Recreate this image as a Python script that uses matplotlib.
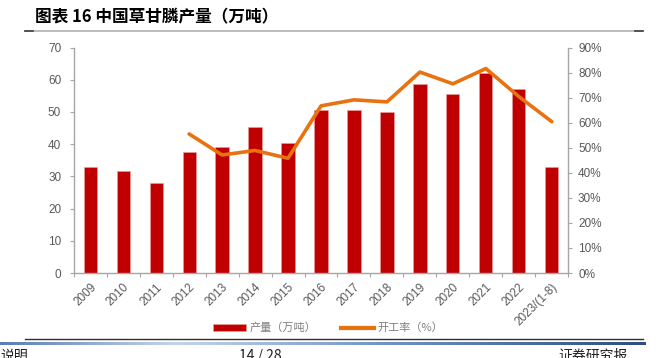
import matplotlib
matplotlib.use("Agg")
import matplotlib.pyplot as plt
import numpy as np
from matplotlib.colors import LinearSegmentedColormap
from matplotlib.lines import Line2D
from matplotlib.patches import Patch

plt.rcParams['font.family'] = ['Liberation Sans', 'Noto Sans CJK SC', 'DejaVu Sans']

years = ["2009", "2010", "2011", "2012", "2013", "2014", "2015", "2016", "2017",
         "2018", "2019", "2020", "2021", "2022", "2023/(1-8)"]
output = [33.0, 31.8, 28.0, 37.6, 39.2, 45.2, 40.3, 50.6, 50.5, 50.0, 58.7, 55.5, 62.2, 57.0, 32.8]
# operating rate (%), starts in 2012
rate_years = years[3:]
rate = [55.5, 47.1, 48.9, 45.8, 66.7, 69.1, 68.3, 80.2, 75.5, 81.6, 70.4, 60.4]

W, H = 661, 358
fig = plt.figure(figsize=(W / 100, H / 100), dpi=100)
ax = fig.add_axes([73.7 / W, 1 - 273 / H, (568.3 - 73.7) / W, (273 - 47.5) / H])
ax2 = ax.twinx()

GRAY = "#a6a6a6"
TXT = "#595959"
RED = "#c00000"
ORANGE = "#e8720f"

x = np.arange(len(years))
ax.bar(x, output, width=0.4, color=RED, edgecolor="#e8a0a0", linewidth=0.4, zorder=2)
xr = np.arange(len(years) - len(rate), len(years))
ax2.plot(xr, rate, color=ORANGE, lw=2.6, solid_capstyle="round", zorder=3)

ax.set_xlim(-0.5, len(years) - 0.5)
ax.set_ylim(0, 70)
ax.set_yticks(range(0, 71, 10))
ax2.set_ylim(0, 90)
ax2.set_yticks(range(0, 91, 10))
ax2.set_yticklabels([f"{v}%" for v in range(0, 91, 10)])

ax.set_xticks(x)
ax.set_xticklabels(years, rotation=45, ha="right", rotation_mode="anchor")
ax.set_xticks(np.arange(-0.5, len(years), 1), minor=True)
ax.tick_params(axis="x", which="major", length=0, pad=6, labelsize=8.5, labelcolor=TXT)
ax.tick_params(axis="x", which="minor", length=3, color=GRAY, width=0.8, direction="out")
ax.tick_params(axis="y", length=3, color=GRAY, width=0.8, labelsize=8.5, labelcolor=TXT, pad=6)
ax2.tick_params(axis="y", length=3, color=GRAY, width=0.8, labelsize=8.5, labelcolor=TXT, pad=4)

for a in (ax, ax2):
    a.spines["top"].set_visible(False)
    for s in ("left", "right", "bottom"):
        a.spines[s].set_color(GRAY)
        a.spines[s].set_linewidth(1.0)
ax.spines["right"].set_visible(False)
ax2.spines["left"].set_visible(False)
ax2.spines["bottom"].set_visible(False)

# legend
handles = [Patch(facecolor=RED, edgecolor="#e8a0a0", linewidth=0.4),
           Line2D([0], [0], color=ORANGE, lw=3)]
leg = fig.legend(handles, ["产量（万吨）", "开工率（%）"], loc="center",
                 bbox_to_anchor=(328 / W, 1 - 328 / H), ncol=2, frameon=False,
                 handlelength=3.0, handleheight=0.55, columnspacing=2.2,
                 handletextpad=0.3, prop={"family": ["Noto Sans CJK SC"], "size": 8})
for t in leg.get_texts():
    t.set_color("#7f7f7f")

# title and header line
fig.text(35 / W, 1 - 17 / H, "图表 16 中国草甘膦产量（万吨）", fontsize=12, fontweight="bold",
         family=["Noto Sans CJK SC"], va="center", ha="left", color="black")
fig.add_artist(Line2D([25 / W, 643 / W], [1 - 31 / H] * 2, color="#b0b0b0", lw=1.2))
fig.add_artist(Line2D([25 / W, 33 / W], [1 - 31 / H] * 2, color="#404040", lw=1.2))
fig.add_artist(Line2D([635 / W, 643 / W], [1 - 31 / H] * 2, color="#404040", lw=1.2))

# footer (cut off at the bottom edge, as in the page screenshot)
fig.add_artist(Line2D([25 / W, 643 / W], [1 - 339 / H] * 2, color="#303030", lw=1.0))
cmap = LinearSegmentedColormap.from_list("bar", [(0, "#5a7db5"), (0.27, "#c4d5ea"),
                                                 (0.6, "#6f93c6"), (1.0, "#2c4f80")])
gax = fig.add_axes([0, 1 - 345 / H, 646 / W, 3.5 / H])
gax.imshow(np.linspace(0, 1, 256)[None, :], aspect="auto", cmap=cmap)
gax.axis("off")
for xx, s, ha in [(0, "说明", "left"), (260, "14 / 28", "center"), (558, "证券研究报", "left")]:
    fig.text(xx / W, 1 - 349 / H, s, fontsize=10, va="top", ha=ha, color="#202020",
             family=["Noto Sans CJK SC", "DejaVu Sans"])

fig.savefig("out.png", dpi=100)
